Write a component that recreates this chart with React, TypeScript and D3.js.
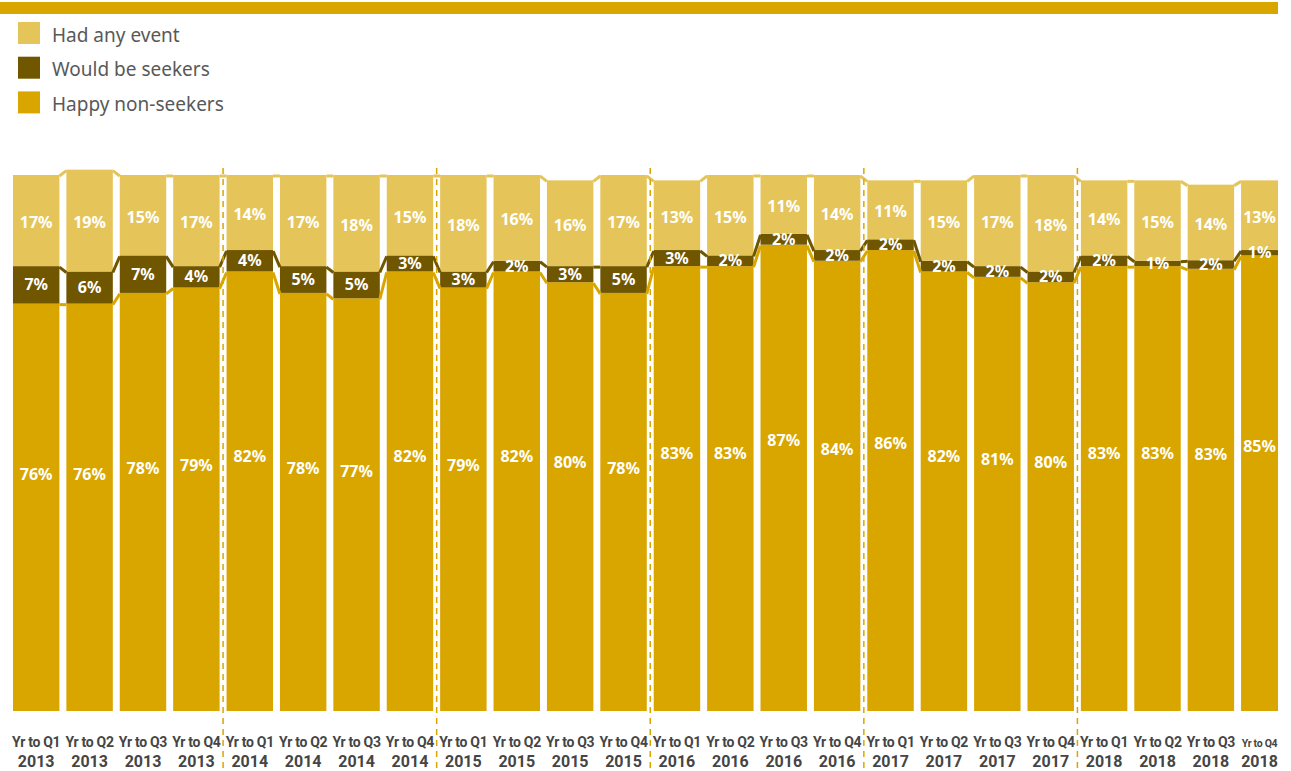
import React, { useRef, useEffect } from 'react';
import * as d3 from 'd3';

// chart values
const quarters = [
  "Yr to Q1", "Yr to Q2", "Yr to Q3", "Yr to Q4",
  "Yr to Q1", "Yr to Q2", "Yr to Q3", "Yr to Q4",
  "Yr to Q1", "Yr to Q2", "Yr to Q3", "Yr to Q4",
  "Yr to Q1", "Yr to Q2", "Yr to Q3", "Yr to Q4",
  "Yr to Q1", "Yr to Q2", "Yr to Q3", "Yr to Q4",
  "Yr to Q1", "Yr to Q2", "Yr to Q3", "Yr to Q4"
];
const years = [
  "2013", "2013", "2013", "2013", "2014", "2014", "2014", "2014",
  "2015", "2015", "2015", "2015", "2016", "2016", "2016", "2016",
  "2017", "2017", "2017", "2017", "2018", "2018", "2018", "2018"
];
const happyNonSeekers = [76, 76, 78, 79, 82, 78, 77, 82, 79, 82, 80, 78, 83, 83, 87, 84, 86, 82, 81, 80, 83, 83, 82.5, 85];
const wouldBeSeekers = [7, 6, 7, 4, 4, 5, 5, 3, 3, 2, 3, 5, 3, 2, 2, 2, 2, 2, 2, 2, 2, 1, 1.6, 1];
const hadAnyEvent = [17, 19, 15, 17, 14, 17, 18, 15, 18, 16, 16, 17, 13, 15, 11, 14, 11, 15, 17, 18, 14, 15, 14.1, 13];

const seriesNames = ["Happy non-seekers", "Would be seekers", "Had any event"];
const colors = ["#d9a600", "#715600", "#e5c55a"];

function App() {
  const width = 1278;
  const height = 771;
  const ref = useRef(null);

  useEffect(() => {
    const svg = d3.select(ref.current);
    svg.selectAll("*").remove();
    drawChart(svg);
  }, []);

  const drawChart = (svg) => {
    const n = quarters.length;
    const rows = d3.range(n).map(i => ({
      i: i,
      happy: happyNonSeekers[i],
      seekers: wouldBeSeekers[i],
      event: hadAnyEvent[i]
    }));
    const keys = ["happy", "seekers", "event"];
    const stacked = d3.stack().keys(keys)(rows);

    const x = d3.scaleBand()
      .domain(d3.range(n))
      .range([9.5, 1291])
      .paddingInner(0.13)
      .paddingOuter(0.065);

    const y = d3.scaleLinear()
      .domain([0, 100])
      .range([711, 175]);

    const bw = x.bandwidth();
    // centre of the visible part of a bar (last bar is cut by the edge)
    const cx = i => (x(i) + Math.min(x(i) + bw, width)) / 2;
    const isCut = i => x(i) + bw > width + 0.5;

    // top banner
    svg.append("rect")
      .attr("x", 0).attr("y", 2)
      .attr("width", width).attr("height", 12)
      .attr("fill", colors[0]);

    // legend (top to bottom: event, seekers, happy)
    const legend = svg.append("g");
    [2, 1, 0].forEach((k, j) => {
      const g = legend.append("g").attr("transform", `translate(18,${22 + j * 34.7})`);
      g.append("rect").attr("width", 22).attr("height", 22).attr("fill", colors[k]);
      g.append("text")
        .attr("x", 34).attr("y", 13).attr("dy", "0.35em")
        .attr("font-family", "'Noto Sans', sans-serif")
        .attr("font-size", 19)
        .attr("fill", "#595959")
        .text(seriesNames[k]);
    });

    // bars
    svg.append("g")
      .selectAll("g")
      .data(stacked)
      .join("g")
        .attr("fill", (d, k) => colors[k])
      .selectAll("rect")
      .data(d => d)
      .join("rect")
        .attr("x", (d, i) => x(i))
        .attr("y", d => y(d[1]))
        .attr("width", bw)
        .attr("height", d => y(d[0]) - y(d[1]));

    // series lines between bars
    stacked.forEach((s, k) => {
      const lines = svg.append("g")
        .attr("stroke", colors[k])
        .attr("stroke-width", 3)
        .attr("fill", "none");
      for (let i = 0; i < n - 1; i++) {
        lines.append("line")
          .attr("x1", x(i) + bw)
          .attr("y1", y(s[i][1]) + 1)
          .attr("x2", x(i + 1))
          .attr("y2", y(s[i + 1][1]) + 1);
      }
    });

    // year separators
    const step = x.step();
    const sep = d3.range(1, n).filter(i => years[i] !== years[i - 1]);
    svg.append("g")
      .selectAll("line")
      .data(sep)
      .join("line")
        .attr("x1", i => x(i) - (step - bw) / 2)
        .attr("x2", i => x(i) - (step - bw) / 2)
        .attr("y1", 168)
        .attr("y2", height)
        .attr("stroke", colors[0])
        .attr("stroke-width", 1.5)
        .attr("stroke-dasharray", "6,5");

    // value labels
    const fmt = v => Math.round(v) + "%";
    const labels = svg.append("g")
      .attr("font-family", "'Noto Sans', sans-serif")
      .attr("font-weight", "bold")
      .attr("font-size", 16)
      .attr("fill", "#ffffff")
      .attr("text-anchor", "middle");

    stacked.forEach((s, k) => {
      labels.append("g")
        .selectAll("text")
        .data(s)
        .join("text")
          .attr("x", (d, i) => cx(i))
          .attr("y", d => {
            const top = y(d[1]);
            const bot = y(d[0]);
            if (k === 0) return top + (bot - top) * 0.42;
            if (k === 2) return (top + bot) / 2 + 2;
            return (top + bot) / 2;
          })
          .attr("dy", "0.35em")
          .text(d => fmt(d[1] - d[0]));
    });

    // x axis labels
    const xl = svg.append("g")
      .attr("font-family", "Roboto, 'Liberation Sans', sans-serif")
      .attr("font-weight", "bold")
      .attr("fill", "#454545")
      .attr("text-anchor", "middle");

    xl.selectAll("text.q")
      .data(quarters)
      .join("text")
        .attr("class", "q")
        .attr("x", (d, i) => cx(i))
        .attr("y", 747)
        .attr("letter-spacing", -0.3)
        // the last label sits on the cut edge, so it gets a smaller size
        .attr("font-size", (d, i) => isCut(i) ? 10.5 : 14)
        .text(d => d);

    xl.selectAll("text.yr")
      .data(years)
      .join("text")
        .attr("class", "yr")
        .attr("x", (d, i) => cx(i))
        .attr("y", 767)
        .attr("font-size", 16)
        .text(d => d);
  };

  return (
    <div style={{ position: "absolute", left: 0, top: 0, margin: 0, padding: 0 }}>
      <svg ref={ref} width={width} height={height} style={{ display: "block" }}></svg>
    </div>
  );
}

export default App;
